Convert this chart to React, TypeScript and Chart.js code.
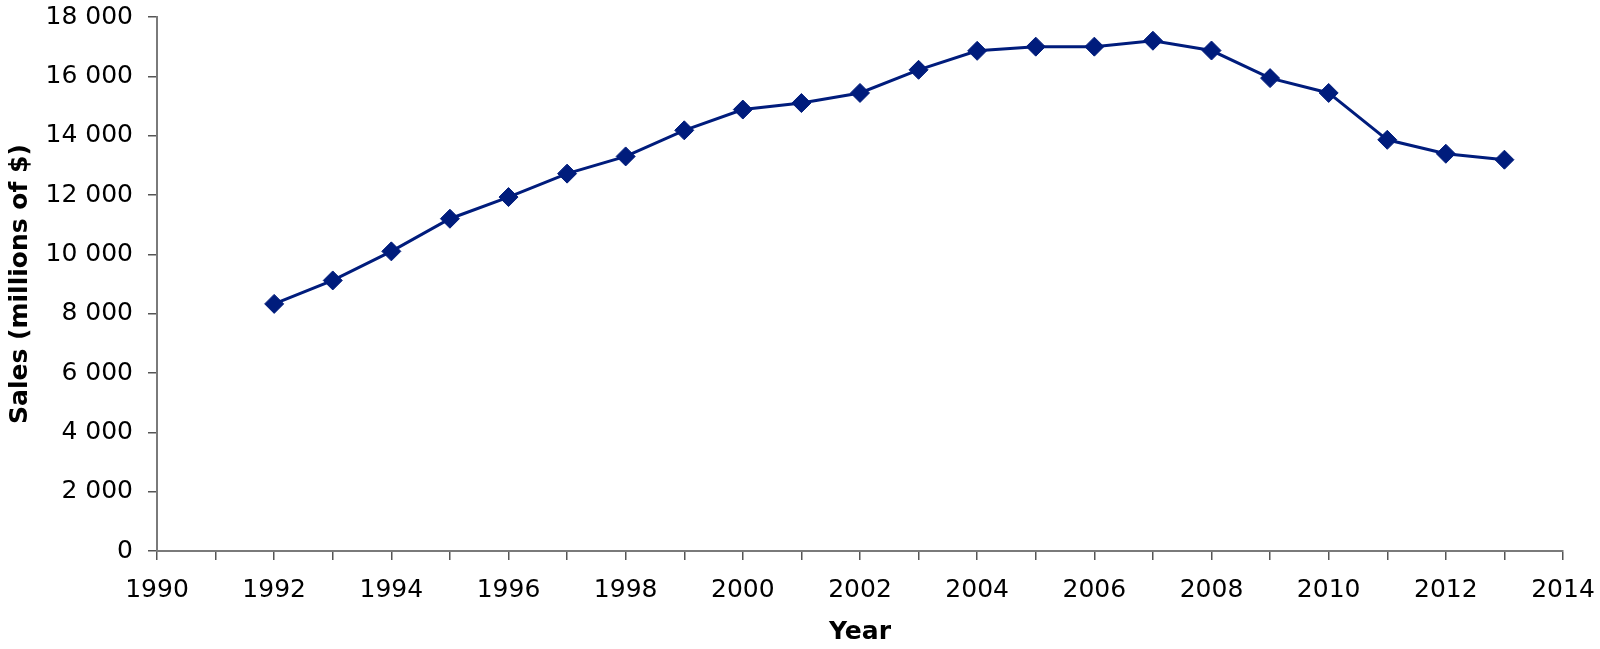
import { useEffect, useRef } from "react";
import { Chart, registerables } from "chart.js";

Chart.register(...registerables);

// ── Data ───────────────────────────────────────────────────────────────────
const YEARS = [
  1992, 1993, 1994, 1995, 1996, 1997, 1998, 1999, 2000, 2001, 2002,
  2003, 2004, 2005, 2006, 2007, 2008, 2009, 2010, 2011, 2012, 2013,
];
const SALES = [
  8330, 9120, 10100, 11200, 11930, 12720, 13300, 14180, 14880, 15100, 15440,
  16220, 16860, 17000, 17000, 17200, 16870, 15940, 15440, 13860, 13390, 13190,
];
const X_MIN = 1990;
const X_MAX = 2014;
const Y_MAX = 18000;
const Y_STEP = 2000;

const LINE_COLOR = "#001c7c";
const AXIS_COLOR = "#7a7a7a";
const FONT = "'DejaVu Sans', Verdana, sans-serif";

const fmt = (v: number) => String(v).replace(/\B(?=(\d{3})+(?!\d))/g, " ");

export default function App() {
  const canvasRef = useRef<HTMLCanvasElement>(null);

  useEffect(() => {
    document.body.style.margin = "0";
    if (!canvasRef.current) return;

    const chart = new Chart(canvasRef.current, {
      type: "line",
      data: {
        datasets: [{
          label: "Sales",
          data: YEARS.map((y, i) => ({ x: y, y: SALES[i] })),
          borderColor: LINE_COLOR,
          backgroundColor: LINE_COLOR,
          borderWidth: 3,
          pointStyle: "rectRot",
          pointRadius: 9.5,
          pointBorderWidth: 1,
          pointBorderColor: LINE_COLOR,
          pointBackgroundColor: LINE_COLOR,
          tension: 0,
        }],
      },
      options: {
        animation: false,
        responsive: true,
        maintainAspectRatio: false,
        layout: { padding: { top: 17, right: 37, left: 0, bottom: 0 } },
        plugins: {
          legend: { display: false },
          tooltip: { enabled: false },
        },
        scales: {
          x: {
            type: "linear",
            min: X_MIN,
            max: X_MAX,
            afterFit: (s) => {
              s.height = 98;
              s.paddingLeft = 0;
              s.paddingRight = 0;
            },
            border: { display: true, color: AXIS_COLOR, width: 2 },
            grid: { drawOnChartArea: false, drawTicks: true, tickLength: 9, color: "#555", lineWidth: 1.5 },
            ticks: {
              stepSize: 1,
              autoSkip: false,
              maxRotation: 0,
              padding: 15,
              color: "#000",
              font: { family: FONT, size: 25 },
              callback: (v) => (Number(v) % 2 === 0 ? String(v) : ""),
            },
            title: {
              display: true,
              text: "Year",
              color: "#000",
              padding: { top: 0, bottom: 2 },
              font: { family: FONT, size: 25, weight: "bold" },
            },
          },
          y: {
            min: 0,
            max: Y_MAX,
            afterFit: (s) => {
              s.width = 157;
              s.paddingTop = 0;
              s.paddingBottom = 0;
            },
            border: { display: true, color: AXIS_COLOR, width: 2 },
            grid: { drawOnChartArea: false, drawTicks: true, tickLength: 9, color: "#555", lineWidth: 1.5 },
            ticks: {
              stepSize: Y_STEP,
              padding: 15,
              color: "#000",
              font: { family: FONT, size: 25 },
              callback: (v) => fmt(Number(v)),
            },
            title: {
              display: true,
              text: "Sales (millions of $)",
              color: "#000",
              padding: { top: 5, bottom: 0 },
              font: { family: FONT, size: 25, weight: "bold" },
            },
          },
        },
      },
    });

    return () => { chart.destroy(); };
  }, []);

  return (
    <div style={{ width: 1600, height: 649, position: "relative", background: "#fff" }}>
      <canvas ref={canvasRef} />
    </div>
  );
}
